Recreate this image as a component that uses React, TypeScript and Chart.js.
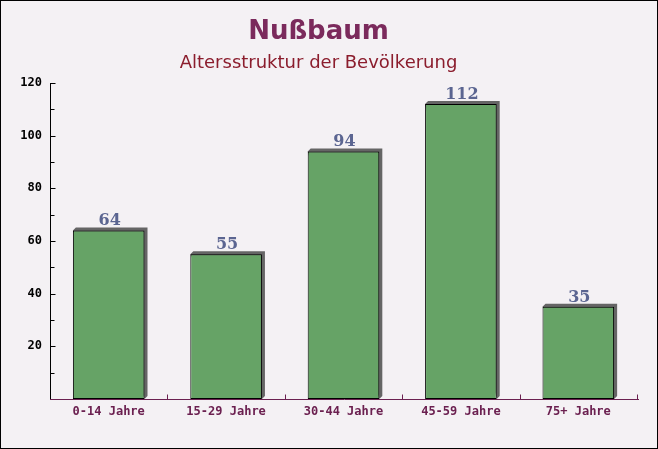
import React, { useEffect, useRef } from 'react';
import { Chart, registerables } from 'chart.js';

Chart.register(...registerables);

const categories = ['0-14 Jahre', '15-29 Jahre', '30-44 Jahre', '45-59 Jahre', '75+ Jahre'];
const values = [64, 55, 94, 112, 35];
const yMin = 0;
const yMax = 120;
const yStep = 20;
const yMinorStep = 10;
const titleText = 'Nußbaum';
const subtitleText = 'Altersstruktur der Bevölkerung';

const BG = '#f4f1f4';
const BAR = '#66a366';
const SHADOW = 'rgba(85,85,85,0.9)';
const XCOL = '#6b2050';

const decorPlugin = {
  id: 'decor',
  beforeDraw(chart: any) {
    const { ctx, width, height } = chart;
    ctx.save();
    ctx.fillStyle = BG;
    ctx.fillRect(0, 0, width, height);
    ctx.restore();
  },
  beforeDatasetsDraw(chart: any) {
    const { ctx } = chart;
    const meta = chart.getDatasetMeta(0);
    ctx.save();
    ctx.fillStyle = SHADOW;
    meta.data.forEach((bar: any) => {
      const w = bar.width;
      const left = bar.x - w / 2;
      const top = bar.y;
      const h = bar.base - bar.y;
      ctx.beginPath();
      ctx.moveTo(left + 3, top - 3);
      ctx.lineTo(left + w + 3, top - 3);
      ctx.lineTo(left + w + 3, top + h - 3);
      ctx.lineTo(left + w, top + h);
      ctx.lineTo(left, top);
      ctx.closePath();
      ctx.fill();
    });
    ctx.restore();
  },
  afterDatasetsDraw(chart: any) {
    const { ctx, chartArea } = chart;
    const xs = chart.scales.x;
    const ys = chart.scales.y;
    ctx.save();
    // y axis
    ctx.strokeStyle = '#000';
    ctx.lineWidth = 1;
    ctx.beginPath();
    const ax = Math.round(chartArea.left) + 0.5;
    ctx.moveTo(ax, Math.round(chartArea.top));
    ctx.lineTo(ax, Math.round(chartArea.bottom));
    for (let v = yMin + yMinorStep; v <= yMax; v += yMinorStep) {
      const y = Math.round(ys.getPixelForValue(v)) + 0.5;
      const len = v % yStep === 0 ? 5 : 4;
      ctx.moveTo(ax, y);
      ctx.lineTo(ax + len, y);
    }
    ctx.stroke();
    // x axis
    ctx.strokeStyle = XCOL;
    ctx.beginPath();
    const ay = Math.round(chartArea.bottom) + 0.5;
    ctx.moveTo(Math.round(chartArea.left), ay);
    ctx.lineTo(Math.round(chartArea.right) + 2, ay);
    for (let i = 1; i <= categories.length; i++) {
      const x = Math.round(xs.getPixelForValue(i - 0.5)) + 0.5;
      ctx.moveTo(x, ay);
      ctx.lineTo(x, ay - 5);
    }
    ctx.stroke();
    // value labels
    const meta = chart.getDatasetMeta(0);
    ctx.fillStyle = '#5b6591';
    ctx.font = 'bold 16px "DejaVu Serif"';
    ctx.textAlign = 'center';
    ctx.textBaseline = 'alphabetic';
    meta.data.forEach((bar: any, i: number) => {
      ctx.fillText(String(values[i]), bar.x + 1, bar.y - 5);
    });
    ctx.restore();
  },
  afterDraw(chart: any) {
    const { ctx, width, height } = chart;
    ctx.save();
    ctx.strokeStyle = '#000';
    ctx.lineWidth = 1;
    ctx.strokeRect(0.5, 0.5, width - 1, height - 1);
    ctx.restore();
  },
};

export default function App() {
  const ref = useRef<HTMLCanvasElement>(null);
  useEffect(() => {
    if (!ref.current) return;
    const chart = new Chart(ref.current, {
      type: 'bar',
      data: {
        labels: categories,
        datasets: [
          {
            data: values,
            backgroundColor: BAR,
            borderColor: '#000',
            borderWidth: 1,
            borderSkipped: false,
            categoryPercentage: 1,
            barPercentage: 0.61,
          },
        ],
      },
      options: {
        responsive: false,
        animation: false,
        devicePixelRatio: 1,
        layout: { padding: { left: 0, right: 21, top: 0, bottom: 0 } },
        plugins: {
          legend: { display: false },
          tooltip: { enabled: false },
          title: {
            display: true,
            text: titleText,
            color: '#7b2a5c',
            font: { family: 'DejaVu Sans', size: 26, weight: 'bold' },
            padding: { top: 17, bottom: 0 },
          },
          subtitle: {
            display: true,
            text: subtitleText,
            color: '#8b1d2d',
            font: { family: 'DejaVu Sans', size: 18, weight: 'normal' },
            padding: { top: 4.5, bottom: 8.7 },
          },
        },
        scales: {
          x: {
            grid: { display: false, drawTicks: false },
            border: { display: false },
            ticks: {
              color: XCOL,
              font: { family: 'DejaVu Sans Mono', size: 12, weight: 'bold' },
              padding: 6,
              maxRotation: 0,
            },
            afterFit: (s: any) => {
              s.height = 50;
            },
          },
          y: {
            min: yMin,
            max: yMax,
            grid: { display: false, drawTicks: false },
            border: { display: false },
            ticks: {
              stepSize: yStep,
              color: '#000',
              font: { family: 'DejaVu Sans Mono', size: 12, weight: 'bold' },
              padding: 8,
              callback: (v: any) => (v === 0 ? '' : String(v)),
            },
            afterFit: (s: any) => {
              s.width = 50;
            },
          },
        },
      },
      plugins: [decorPlugin],
    });
    return () => chart.destroy();
  }, []);
  return (
    <div style={{ position: 'fixed', left: 0, top: 0, width: 658, height: 449 }}>
      <canvas ref={ref} width={658} height={449} style={{ display: 'block' }} />
    </div>
  );
}
